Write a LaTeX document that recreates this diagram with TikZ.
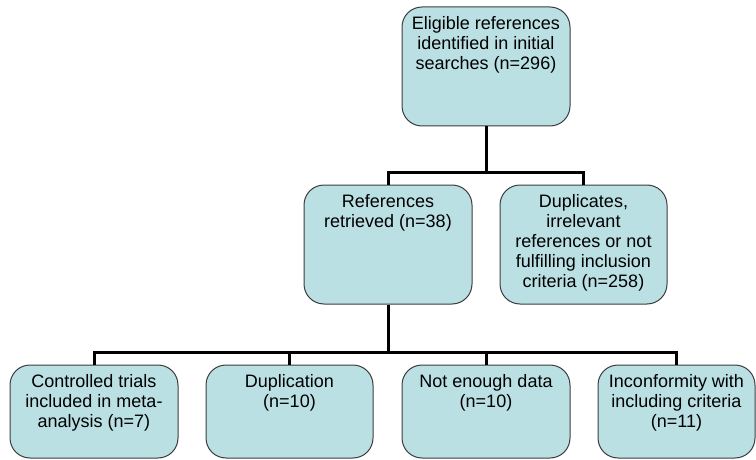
\documentclass[tikz,border=0pt]{standalone}
\usepackage{fontspec}
\setmainfont{Liberation Sans}
\usetikzlibrary{positioning}
\definecolor{boxfill}{RGB}{187,224,227}
\definecolor{boxline}{RGB}{60,60,60}
\newcommand{\boxtext}[3]{\parbox[t][#2][t]{#1}{\centering #3}}

\begin{document}
\begin{tikzpicture}[x=1pt,y=-1pt,
    box/.style={draw=boxline, fill=boxfill, line width=1pt, rounded corners=20pt,
      inner xsep=4pt, inner ysep=9pt, font=\fontsize{18pt}{20pt}\selectfont},
    conn/.style={line width=3pt, black, line join=miter}]
  \useasboundingbox (0,0) rectangle (756,460);
  % first two levels
  \node[box] (elig) at (486,66.5) {\boxtext{160pt}{101pt}{Eligible references\\identified in initial\\searches (n=296)}};
  \node[box] (retr) at (388,244.5) {\boxtext{160pt}{101pt}{References\\retrieved (n=38)}};
  \node[box] (dupl) at (583.5,244.5) {\boxtext{159pt}{101pt}{Duplicates,\\irrelevant\\references or not\\fulfilling inclusion\\criteria (n=258)}};
  % last level
  \node[box] (trials) at (94,411.5) {\boxtext{160pt}{75pt}{Controlled trials\\included in meta-\\analysis (n=7)}};
  \node[box] (dupn) at (289.5,411.5) {\boxtext{159pt}{75pt}{Duplication\\(n=10)}};
  \node[box] (data) at (486,411.5) {\boxtext{160pt}{75pt}{Not enough data\\(n=10)}};
  \node[box] (incon) at (676.5,411.5) {\boxtext{149pt}{75pt}{Inconformity with\\including criteria\\(n=11)}};

  \coordinate (split1) at (486,172);
  \coordinate (split2) at (388,352);
  \draw[conn] (elig.south) -- (split1);
  \draw[conn] (retr.north) |- (split1) -| (dupl.north);
  \draw[conn] (retr.south) -- (split2);
  \draw[conn] (trials.north) |- (split2) -| (incon.north);
  \draw[conn] (dupn.north) -- (dupn.north |- split2);
  \draw[conn] (data.north) -- (data.north |- split2);
\end{tikzpicture}
\end{document}
